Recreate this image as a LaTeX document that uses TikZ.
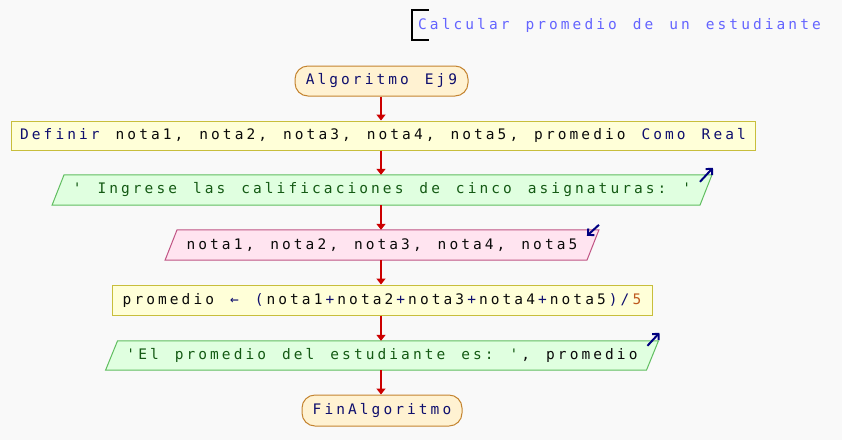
\documentclass[tikz,border=0pt]{standalone}
\usepackage{fontspec}
\setmonofont{DejaVu Sans Mono}[LetterSpace=21.2,WordSpace=1.353]
\usetikzlibrary{arrows.meta,calc,backgrounds}
\definecolor{bgc}{RGB}{249,249,249}
\definecolor{termfill}{RGB}{255,242,210}
\definecolor{termdraw}{RGB}{196,132,48}
\definecolor{procfill}{RGB}{255,255,216}
\definecolor{procdraw}{RGB}{200,190,60}
\definecolor{outfill}{RGB}{224,255,224}
\definecolor{outdraw}{RGB}{96,190,96}
\definecolor{infill}{RGB}{255,228,240}
\definecolor{indraw}{RGB}{192,84,132}
\definecolor{kw}{RGB}{15,15,110}
\definecolor{var}{RGB}{10,10,10}
\definecolor{strc}{RGB}{20,90,20}
\definecolor{numc}{RGB}{190,90,30}
\definecolor{flowred}{RGB}{204,0,0}
\definecolor{iconc}{RGB}{0,0,128}
\definecolor{cmt}{RGB}{100,100,255}
\newcommand\LS{\kern3.08pt}
\newcommand\myparal[2]{%
  \begin{scope}[on background layer]
  \draw[#2] ($(#1.south west)+(-6,0)$) -- ($(#1.north west)+(6,0)$) -- ($(#1.north east)+(6,0)$) -- ($(#1.south east)+(-6,0)$) -- cycle;
  \end{scope}}
\begin{document}
\begin{tikzpicture}[x=1pt,y=-1pt,
  every node/.style={font=\ttfamily\fontsize{14.5}{17}\selectfont, inner sep=0pt},
  term/.style={draw=termdraw, fill=termfill, line width=1pt, rounded corners=13pt, minimum height=30, text=kw},
  proc/.style={draw=procdraw, fill=procfill, line width=1pt, minimum height=29},
  iotext/.style={minimum height=30},
  outshape/.style={draw=outdraw, fill=outfill, line width=1pt},
  inshape/.style={draw=indraw, fill=infill, line width=1pt},
  flow/.style={draw=flowred, line width=1.5pt, -{Triangle[width=9pt,length=6pt]}},
  icon/.style={draw=iconc, line width=2pt, -{Straight Barb[length=4.5pt,width=9pt]}},
  ]
\begin{scope}[on background layer]
\fill[bgc] (0,0) rectangle (842,440);
\end{scope}
\useasboundingbox (0,0) rectangle (842,440);

% comment
\draw[line width=1.2pt] (429,10) -- (412,10) -- (412,40) -- (429,40);
\node[anchor=west, text=cmt] (cm) at (418,25) {Calcular promedio de un estudiante};

\node[term, minimum width=173] (alg) at (381.5,81) {Algoritmo Ej9};
\node[proc, minimum width=744] (def) at (383,135.5) {\textcolor{kw}{Definir} \textcolor{var}{nota1, nota2, nota3, nota4, nota5, promedio} \textcolor{kw}{Como Real}};
\node[iotext, minimum width=647.5, text=strc] (o1) at (382,190) {' Ingrese las calificaciones de cinco asignaturas: '};
\myparal{o1}{outshape}
\node[iotext, minimum width=421.5, text=var] (in) at (382,245) {nota1, nota2, nota3, nota4, nota5};
\myparal{in}{inshape}
\node[proc, minimum width=540, minimum height=30] (as) at (382,300) {\textcolor{var}{promedio} \textcolor{kw}{←} \textcolor{kw}{(}\LS\textcolor{var}{nota1}\LS\textcolor{kw}{+}\LS\textcolor{var}{nota2}\LS\textcolor{kw}{+}\LS\textcolor{var}{nota3}\LS\textcolor{kw}{+}\LS\textcolor{var}{nota4}\LS\textcolor{kw}{+}\LS\textcolor{var}{nota5}\LS\textcolor{kw}{)/}\LS\textcolor{numc}{5}};
\node[iotext, minimum width=540.5, minimum height=29] (o2) at (382,355.5) {\textcolor{strc}{'El promedio del estudiante es: '}\LS\textcolor{var}{, promedio}};
\myparal{o2}{outshape}
\node[term, minimum width=160, minimum height=31] (fin) at (382,410.5) {FinAlgoritmo};

\draw[flow] (alg.south -| 381,0) -- (def.north -| 381,0);
\draw[flow] (def.south -| 381,0) -- (o1.north -| 381,0);
\draw[flow] (o1.south -| 381,0) -- (in.north -| 381,0);
\draw[flow] (in.south -| 381,0) -- (as.north -| 381,0);
\draw[flow] (as.south -| 381,0) -- (o2.north -| 381,0);
\draw[flow] (o2.south -| 381,0) -- (fin.north -| 381,0);

\draw[icon] ($(o1.north east)+(-6,7)$) -- ($(o1.north east)+(7,-7)$);
\draw[icon] ($(in.north east)+(6,-5)$) -- ($(in.north east)+(-6,6)$);
\draw[icon] ($(o2.north east)+(-5,5)$) -- ($(o2.north east)+(7,-8)$);
\end{tikzpicture}
\end{document}
